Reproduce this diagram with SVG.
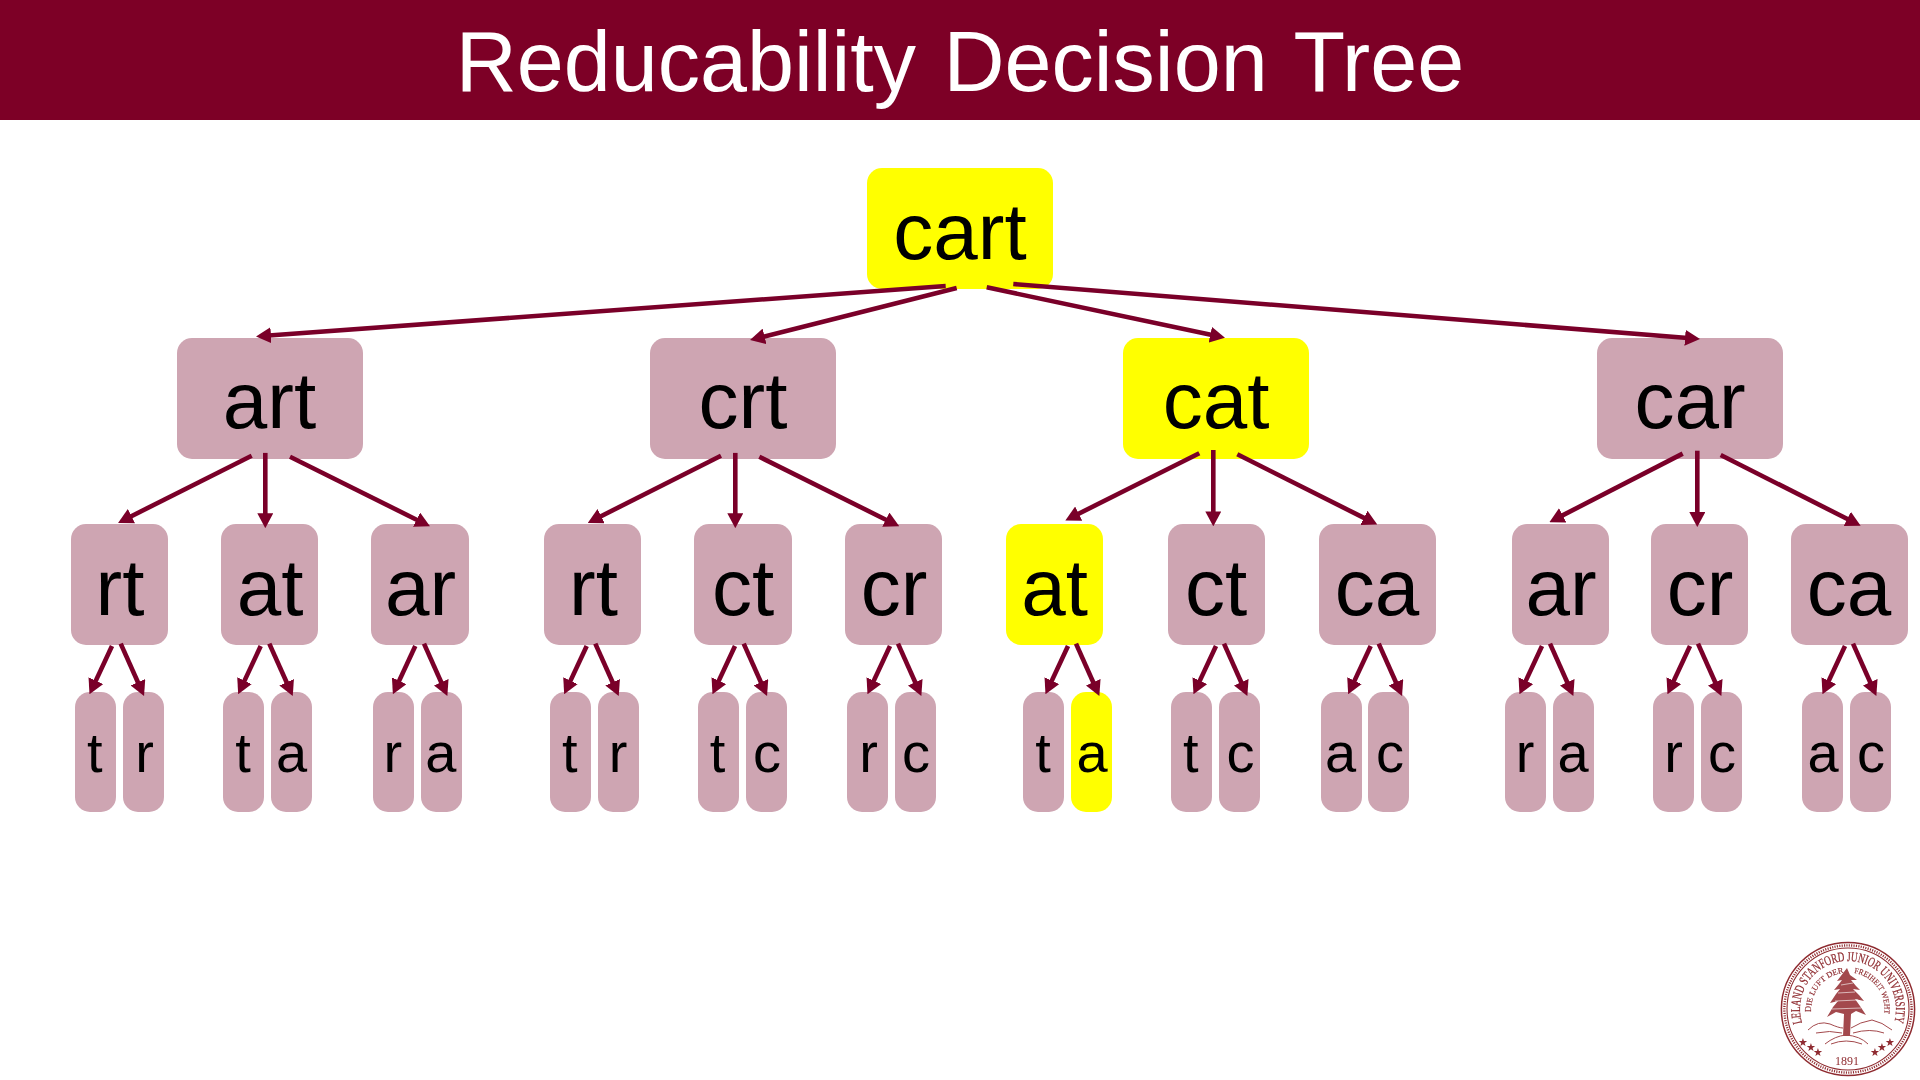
<svg xmlns="http://www.w3.org/2000/svg" xmlns:xlink="http://www.w3.org/1999/xlink" width="1920" height="1080" viewBox="0 0 1920 1080">
<style>
text{font-family:"Liberation Sans",Arial,sans-serif;fill:#000;text-anchor:middle}
.n rect{fill:#CEA5B2}
.y rect{fill:#FFFF00}
.b rect{rx:15px;ry:15px}
.l rect{rx:15px;ry:15px}
.b text{font-size:80px}
.l text{font-size:56px}
#connectors line{stroke:#7A0029;stroke-width:4.6;marker-end:url(#ah)}
#seal text{font-family:"Liberation Serif",serif;fill:#8f2c30}
</style>
<defs>
<marker id="ah" markerUnits="userSpaceOnUse" markerWidth="15" markerHeight="16" refX="9" refY="8" orient="auto"><path d="M0 0L15 8L0 16z" fill="#7A0029"/></marker>
<filter id="soft" x="-5%" y="-5%" width="110%" height="110%"><feGaussianBlur stdDeviation="0.35"/></filter>
<path id="arcOuter" d="M1802.1 1023A48 48 0 1 1 1893.9 1023"/>
<path id="arcL" d="M1811.6 1012A36.5 36.5 0 0 1 1842 973"/>
<path id="arcR" d="M1854 973A36.5 36.5 0 0 1 1884.4 1012"/>
</defs>
<rect width="1920" height="1080" fill="#fff"/>
<rect id="title-bar" width="1920" height="120" fill="#7D0026"/>
<text id="title" x="960" y="90.5" style="font-size:84.5px;fill:#fff;word-spacing:4px">Reducability Decision Tree</text>

<g id="n-cart" class="b y"><rect x="867" y="168" width="186" height="121"/><text x="960" y="259">cart</text></g>

<g id="n-art" class="b n"><rect x="177" y="338" width="186" height="121"/><text x="269.5" y="427.5">art</text></g>
<g id="n-crt" class="b n"><rect x="650" y="338" width="186" height="121"/><text x="743" y="427.5">crt</text></g>
<g id="n-cat" class="b y"><rect x="1123" y="338" width="186" height="121"/><text x="1216" y="427.5">cat</text></g>
<g id="n-car" class="b n"><rect x="1597" y="338" width="186" height="121"/><text x="1690" y="427.5">car</text></g>

<g id="n-art-rt" class="b n"><rect x="71" y="524" width="97" height="121"/><text x="120" y="615">rt</text></g>
<g id="n-art-at" class="b n"><rect x="221" y="524" width="97" height="121"/><text x="270" y="615">at</text></g>
<g id="n-art-ar" class="b n"><rect x="371" y="524" width="98" height="121"/><text x="420.5" y="615">ar</text></g>
<g id="n-crt-rt" class="b n"><rect x="544" y="524" width="97" height="121"/><text x="593.5" y="615">rt</text></g>
<g id="n-crt-ct" class="b n"><rect x="694" y="524" width="98" height="121"/><text x="743" y="615">ct</text></g>
<g id="n-crt-cr" class="b n"><rect x="845" y="524" width="97" height="121"/><text x="894" y="615">cr</text></g>
<g id="n-cat-at" class="b y"><rect x="1006" y="524" width="97" height="121"/><text x="1054.5" y="615">at</text></g>
<g id="n-cat-ct" class="b n"><rect x="1168" y="524" width="97" height="121"/><text x="1216" y="615">ct</text></g>
<g id="n-cat-ca" class="b n"><rect x="1319" y="524" width="117" height="121"/><text x="1377" y="615">ca</text></g>
<g id="n-car-ar" class="b n"><rect x="1512" y="524" width="97" height="121"/><text x="1561" y="615">ar</text></g>
<g id="n-car-cr" class="b n"><rect x="1651" y="524" width="97" height="121"/><text x="1700" y="615">cr</text></g>
<g id="n-car-ca" class="b n"><rect x="1791" y="524" width="117" height="121"/><text x="1849" y="615">ca</text></g>

<g id="l-1" class="l n"><rect x="75" y="692" width="41" height="120"/><text x="94.7" y="772">t</text></g>
<g id="l-2" class="l n"><rect x="123" y="692" width="41" height="120"/><text x="144.5" y="772">r</text></g>
<g id="l-3" class="l n"><rect x="223" y="692" width="41" height="120"/><text x="243" y="772">t</text></g>
<g id="l-4" class="l n"><rect x="271" y="692" width="41" height="120"/><text x="291.7" y="772">a</text></g>
<g id="l-5" class="l n"><rect x="373" y="692" width="41" height="120"/><text x="392.8" y="772">r</text></g>
<g id="l-6" class="l n"><rect x="421" y="692" width="41" height="120"/><text x="440.8" y="772">a</text></g>
<g id="l-7" class="l n"><rect x="550" y="692" width="41" height="120"/><text x="569.7" y="772">t</text></g>
<g id="l-8" class="l n"><rect x="598" y="692" width="41" height="120"/><text x="618" y="772">r</text></g>
<g id="l-9" class="l n"><rect x="698" y="692" width="41" height="120"/><text x="717.5" y="772">t</text></g>
<g id="l-10" class="l n"><rect x="746" y="692" width="41" height="120"/><text x="767" y="772">c</text></g>
<g id="l-11" class="l n"><rect x="847" y="692" width="41" height="120"/><text x="868.5" y="772">r</text></g>
<g id="l-12" class="l n"><rect x="895" y="692" width="41" height="120"/><text x="916" y="772">c</text></g>
<g id="l-13" class="l n"><rect x="1023" y="692" width="41" height="120"/><text x="1043" y="772">t</text></g>
<g id="l-14" class="l y"><rect x="1071" y="692" width="41" height="120"/><text x="1092" y="772">a</text></g>
<g id="l-15" class="l n"><rect x="1171" y="692" width="41" height="120"/><text x="1190.7" y="772">t</text></g>
<g id="l-16" class="l n"><rect x="1219" y="692" width="41" height="120"/><text x="1240.5" y="772">c</text></g>
<g id="l-17" class="l n"><rect x="1321" y="692" width="41" height="120"/><text x="1340.5" y="772">a</text></g>
<g id="l-18" class="l n"><rect x="1368" y="692" width="41" height="120"/><text x="1390" y="772">c</text></g>
<g id="l-19" class="l n"><rect x="1505" y="692" width="41" height="120"/><text x="1525" y="772">r</text></g>
<g id="l-20" class="l n"><rect x="1553" y="692" width="41" height="120"/><text x="1573" y="772">a</text></g>
<g id="l-21" class="l n"><rect x="1653" y="692" width="41" height="120"/><text x="1673.5" y="772">r</text></g>
<g id="l-22" class="l n"><rect x="1701" y="692" width="41" height="120"/><text x="1722" y="772">c</text></g>
<g id="l-23" class="l n"><rect x="1802" y="692" width="41" height="120"/><text x="1823" y="772">a</text></g>
<g id="l-24" class="l n"><rect x="1850" y="692" width="41" height="120"/><text x="1871" y="772">c</text></g>

<g id="connectors">
<line x1="945.7" y1="286" x2="262" y2="336"/>
<line x1="956.7" y1="288" x2="755.8" y2="338.6"/>
<line x1="986.7" y1="287.3" x2="1219.1" y2="336.6"/>
<line x1="1013.3" y1="284" x2="1694" y2="338.5"/>
<line x1="251.7" y1="455.7" x2="123.4" y2="520.2"/>
<line x1="265.3" y1="452.9" x2="265.3" y2="522.2"/>
<line x1="290" y1="456.8" x2="424.6" y2="523.7"/>
<line x1="721" y1="455.7" x2="593.1" y2="520.2"/>
<line x1="735.3" y1="452.9" x2="735.3" y2="522.2"/>
<line x1="759.3" y1="456.8" x2="893.9" y2="523.7"/>
<line x1="1199.3" y1="453.2" x2="1070.7" y2="517.7"/>
<line x1="1213.3" y1="450" x2="1213.3" y2="520.4"/>
<line x1="1237.3" y1="454.3" x2="1371.9" y2="521.9"/>
<line x1="1682.7" y1="453.6" x2="1554.7" y2="519.4"/>
<line x1="1697.3" y1="450.7" x2="1697.3" y2="521.1"/>
<line x1="1720.7" y1="455" x2="1855.3" y2="523"/>
<line x1="112" y1="646" x2="92" y2="688.9"/>
<line x1="120.7" y1="643.6" x2="141.6" y2="690.5"/>
<line x1="260.7" y1="646" x2="240.7" y2="688.9"/>
<line x1="269.3" y1="643.6" x2="290.3" y2="690.5"/>
<line x1="415.3" y1="646" x2="395.4" y2="688.9"/>
<line x1="424" y1="643.6" x2="444.9" y2="690.5"/>
<line x1="586.7" y1="646" x2="566.7" y2="688.9"/>
<line x1="595.3" y1="643.6" x2="616.3" y2="690.5"/>
<line x1="735" y1="646" x2="715" y2="688.9"/>
<line x1="743.7" y1="643.6" x2="764.6" y2="690.5"/>
<line x1="890" y1="646" x2="870" y2="688.9"/>
<line x1="898" y1="643.6" x2="918.9" y2="690.5"/>
<line x1="1068" y1="646" x2="1048" y2="688.9"/>
<line x1="1076" y1="643.6" x2="1096.9" y2="690.5"/>
<line x1="1216" y1="646" x2="1196" y2="688.9"/>
<line x1="1224" y1="643.6" x2="1244.9" y2="690.5"/>
<line x1="1370.7" y1="646" x2="1350.7" y2="688.9"/>
<line x1="1378.7" y1="643.6" x2="1399.6" y2="690.5"/>
<line x1="1542" y1="646" x2="1522" y2="688.9"/>
<line x1="1550" y1="643.6" x2="1570.9" y2="690.5"/>
<line x1="1690" y1="646" x2="1670" y2="688.9"/>
<line x1="1698" y1="643.6" x2="1718.9" y2="690.5"/>
<line x1="1845" y1="646" x2="1825" y2="688.9"/>
<line x1="1853" y1="643.6" x2="1873.9" y2="690.5"/>
</g>

<g id="seal" filter="url(#soft)">
<g fill="none" stroke="#8f2c30">
<circle cx="1848" cy="1009" r="66.6" stroke-width="1.5"/>
<circle cx="1848" cy="1009" r="63.6" stroke-width="2.4" stroke-dasharray="1.1 1.3"/>
<circle cx="1848" cy="1009" r="61" stroke-width="1.1"/>
</g>
<text font-size="13.5" stroke="#8f2c30" stroke-width=".25" style="text-anchor:start"><textPath xlink:href="#arcOuter" href="#arcOuter" textLength="178" lengthAdjust="spacingAndGlyphs">LELAND STANFORD JUNIOR UNIVERSITY</textPath></text>
<text font-size="8" stroke="#8f2c30" stroke-width=".15" style="text-anchor:start"><textPath xlink:href="#arcL" href="#arcL" textLength="56" lengthAdjust="spacingAndGlyphs">DIE LUFT DER</textPath></text>
<text font-size="8" stroke="#8f2c30" stroke-width=".15" style="text-anchor:start"><textPath xlink:href="#arcR" href="#arcR" textLength="56" lengthAdjust="spacingAndGlyphs">FREIHEIT WEHT</textPath></text>
<path d="M1847 968L1850 975L1857 980L1851 980L1856 986L1860 990L1853 989L1859 995L1864 1001L1855 999L1860 1006L1866 1015L1856 1011L1851 1014L1850 1036L1843 1036L1844 1014L1836 1012L1827 1017L1833 1007L1838 1001L1830 1003L1836 994L1840 989L1834 990L1839 984L1842 980L1837 981Z" fill="#a34a4e"/>
<g fill="none" stroke="#fff" stroke-width=".8" opacity=".75">
<path d="M1841 985L1853 983M1838 993L1855 992M1835 1001L1858 1000M1832 1009L1861 1008"/>
</g>
<g fill="none" stroke="#a3494c" stroke-width="1">
<path d="M1808 1030Q1818 1020 1830 1024Q1839 1028 1843 1028M1851 1028Q1860 1022 1872 1020Q1882 1022 1892 1030"/>
<path d="M1816 1033Q1830 1030 1842 1033M1853 1033Q1870 1028 1884 1033"/>
<path d="M1825 1044Q1835 1036 1846 1035Q1860 1036 1868 1044M1831 1044Q1846 1038 1862 1044"/>
</g>
<g>
<text x="1803" y="1046" style="font-size:11px">★</text>
<text x="1811" y="1051" style="font-size:11px">★</text>
<text x="1818" y="1056" style="font-size:11px">★</text>
<text x="1875" y="1056" style="font-size:11px">★</text>
<text x="1882" y="1051" style="font-size:11px">★</text>
<text x="1890" y="1046" style="font-size:11px">★</text>
</g>
<text x="1847" y="1065" font-size="12">1891</text>
</g>
</svg>
